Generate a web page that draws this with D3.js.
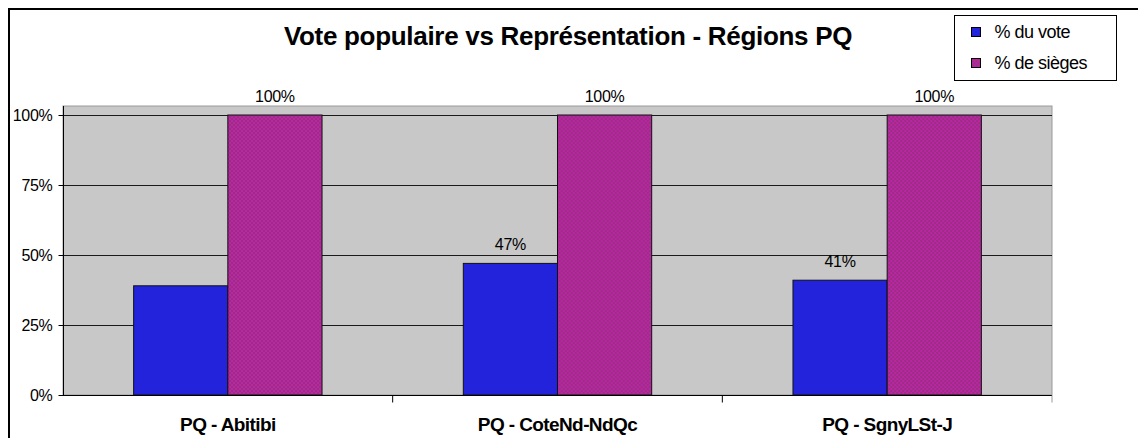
<!DOCTYPE html>
<html><head><meta charset="utf-8">
<script src="https://cdn.jsdelivr.net/npm/d3@7"></script>
<style>
html,body{margin:0;padding:0;background:#fff;}
svg{display:block;font-family:"Liberation Sans",Arial,sans-serif;}
</style></head>
<body>
<svg id="c" width="1138" height="438"></svg>
<script>
const title = "Vote populaire vs Représentation - Régions PQ";
const categories = ["PQ - Abitibi", "PQ - CoteNd-NdQc", "PQ - SgnyLSt-J"];
const seriesNames = ["% du vote", "% de sièges"];
const voteValues = [0.39, 0.47, 0.41];
const seatValues = [1.00, 1.00, 1.00];
const voteLabels = [null, "47%", "41%"];
const seatLabels = ["100%", "100%", "100%"];
const yTicks = [0, 0.25, 0.5, 0.75, 1];
const yTickLabels = ["0%", "25%", "50%", "75%", "100%"];

const svg = d3.select("#c");
const W = 1138, H = 438;
const plot = {left: 63, right: 1052, top: 106, bottom: 395};
const blue = "#2323DC", pinkBase = "#982F80", pinkDot = "#FF10F0", gridColor = "#1a1a1a", bg = "#C8C8C8";

const defs = svg.append("defs");
const pat = defs.append("pattern").attr("id","dots").attr("patternUnits","userSpaceOnUse")
  .attr("width",4).attr("height",4);
pat.append("rect").attr("width",4).attr("height",4).attr("fill",pinkBase);
pat.append("circle").attr("cx",1).attr("cy",1).attr("r",0.7).attr("fill",pinkDot);
pat.append("circle").attr("cx",3).attr("cy",3).attr("r",0.7).attr("fill",pinkDot);

// outer frame
svg.append("path").attr("d",`M9,${H+5}V9H${W+5}`).attr("fill","none").attr("stroke","#000").attr("stroke-width",2);

const y = d3.scaleLinear().domain([0,1]).range([plot.bottom, 115]);
const x0 = d3.scaleBand().domain(categories).range([plot.left, plot.right]).paddingInner(0).paddingOuter(0);
const bw = x0.bandwidth()/3.5;
const x1 = d3.scaleBand().domain(seriesNames).range([0.75*bw, 2.75*bw]).padding(0);

// plot background
svg.append("rect").attr("x",plot.left).attr("y",plot.top).attr("width",plot.right-plot.left)
  .attr("height",plot.bottom-plot.top).attr("fill",bg).attr("stroke","#999").attr("stroke-width",1);

// gridlines
svg.append("g").selectAll("line").data(yTicks.slice(1)).join("line")
  .attr("x1",plot.left).attr("x2",plot.right).attr("y1",d=>Math.round(y(d))+0.5).attr("y2",d=>Math.round(y(d))+0.5)
  .attr("stroke",gridColor).attr("stroke-width",1);

// bars
const rows = categories.map((c,i)=>({c, vals:[
  {s:seriesNames[0], v:voteValues[i], lab:voteLabels[i]},
  {s:seriesNames[1], v:seatValues[i], lab:seatLabels[i]}]}));
const g = svg.append("g").selectAll("g").data(rows).join("g").attr("transform",d=>`translate(${x0(d.c)},0)`);
g.selectAll("rect").data(d=>d.vals).join("rect")
  .attr("x",d=>x1(d.s)).attr("width",x1.bandwidth())
  .attr("y",d=>y(d.v)).attr("height",d=>y(0)-y(d.v))
  .attr("fill",d=>d.s===seriesNames[0]?blue:"url(#dots)")
  .attr("stroke","#111").attr("stroke-width",1);
g.selectAll("text").data(d=>d.vals.filter(v=>v.lab)).join("text")
  .attr("x",d=>x1(d.s)+x1.bandwidth()/2).attr("y",d=>y(d.v)-13)
  .attr("text-anchor","middle").attr("font-size",16).attr("fill","#000").attr("letter-spacing","-0.3")
  .text(d=>d.lab);

// y axis
const yAxis = d3.axisLeft(y).tickValues(yTicks).tickFormat((d,i)=>yTickLabels[i]).tickSize(5).tickPadding(6);
const ya = svg.append("g").attr("transform",`translate(${plot.left+0.5},0)`).call(yAxis);
ya.select(".domain").attr("stroke","#000").attr("d",`M0,${plot.top}V${plot.bottom}`);
ya.selectAll(".tick line").attr("stroke","#000");
ya.selectAll("text").attr("font-size",16).attr("font-family","Liberation Sans, Arial").attr("fill","#000").attr("letter-spacing","-0.3");

// x axis
const xa = svg.append("g").attr("transform",`translate(0,${plot.bottom+0.5})`);
xa.append("line").attr("x1",plot.left).attr("x2",plot.right).attr("stroke","#000");
xa.selectAll("line.t").data(categories.slice(1).concat(["_end"])).join("line").attr("class","t")
  .attr("x1",d=>d==="_end"?plot.right:x0(d)).attr("x2",d=>d==="_end"?plot.right:x0(d))
  .attr("y1",0).attr("y2",7).attr("stroke",d=>d==="_end"?"#999":"#000");
xa.selectAll("text").data(categories).join("text")
  .attr("x",d=>x0(d)+x0.bandwidth()/2).attr("y",35).attr("text-anchor","middle")
  .attr("font-size",19).attr("font-weight","bold").attr("letter-spacing","-0.6").text(d=>d);

// title
svg.append("text").attr("x",568).attr("y",45).attr("text-anchor","middle").attr("font-size",26)
  .attr("font-weight","bold").attr("letter-spacing","-0.3").text(title);

// legend
const lg = svg.append("g").attr("transform","translate(954.5,15.5)");
lg.append("rect").attr("width",162).attr("height",65).attr("fill","#fff").attr("stroke","#000");
const li = lg.selectAll("g").data(seriesNames).join("g").attr("transform",(d,i)=>`translate(17,${12+i*31})`);
li.append("rect").attr("width",9).attr("height",9).attr("fill",(d,i)=>i===0?blue:"url(#dots)").attr("stroke","#000");
li.append("text").attr("x",23).attr("y",10).attr("font-size",18).attr("letter-spacing","-0.5").text(d=>d);
</script>
</body></html>
